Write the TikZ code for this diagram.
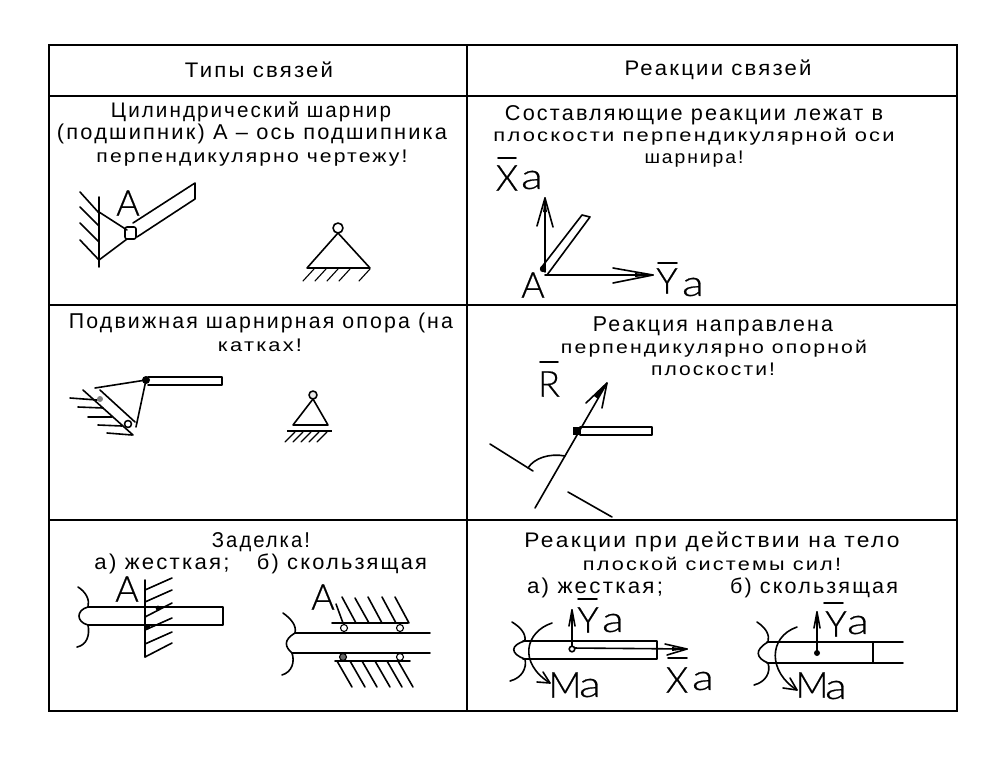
\documentclass[tikz,border=0pt]{standalone}
\usepackage{fontspec}
\setmainfont{Liberation Sans}[LetterSpace=10]
\newfontfamily\bigf{Lato Light}[FakeBold=0.5]
\usetikzlibrary{arrows.meta}
\tikzset{
  frame/.style={line width=2pt,black},
  ln/.style={line width=1.6pt,black,line cap=round,line join=round},
  thin ln/.style={line width=1.1pt,black,line cap=round},
  txt/.style={inner sep=0pt,anchor=center,text=black},
  biglet/.style={inner sep=0pt,anchor=center,font=\bigf\fontsize{36}{36}\selectfont,text=black},
  smalla/.style={inner sep=0pt,anchor=center,font=\bigf\fontsize{36}{36}\selectfont,text=black},
  bartip/.style={line width=1.6pt,black,line cap=round,line join=round}
}
\newcommand{\tline}[5]{\node[txt] (#1) at (#2,#3) {\resizebox*{#4pt}{20pt}{\vphantom{Цр(}#5}};}
\newcommand{\sline}[5]{\node[txt] (#1) at (#2,#3) {\resizebox*{#4pt}{17pt}{\vphantom{Цр(}#5}};}
\newcommand{\wa}{\scalebox{1.25}[1]{a}}
\begin{document}
\begin{tikzpicture}[x=1pt,y=-1pt]
\useasboundingbox (0,0) rectangle (990,760);
% table
\draw[frame] (49,45) rectangle (957,711);
\draw[frame] (467,45) -- (467,711);
\draw[frame] (49,96) -- (957,96);
\draw[frame] (49,304.5) -- (957,304.5);
\draw[frame] (49,520) -- (957,520);
% texts
\tline{h1}{259}{72}{148}{Типы связей}
\tline{h2}{718}{70}{187}{Реакции связей}
\tline{c1a}{251}{112}{280}{Цилиндрический шарнир}
\tline{c1b}{252}{134}{390}{(подшипник) А – ось подшипника}
\sline{c1c}{252}{158}{311}{перпендикулярно чертежу!}
\tline{c2a}{694}{115}{378}{Составляющие реакции лежат в}
\sline{c2b}{694}{137}{401}{плоскости перпендикулярной оси}
\sline{c2c}{694}{159}{99}{шарнира!}
\tline{c3a}{261}{323}{384}{Подвижная шарнирная опора (на}
\sline{c3b}{260}{347}{84}{катках!}
\tline{c4a}{713}{326}{240}{Реакция направлена}
\sline{c4b}{714}{349}{306}{перпендикулярно опорной}
\sline{c4c}{713}{371}{124}{плоскости!}
\tline{c5a}{261}{542}{98}{Заделка!}
\tline{c5b}{162}{564}{135}{а) жесткая;}
\tline{c5c}{342}{564}{170}{б) скользящая}
\tline{c6a}{712}{542}{375}{Реакции при действии на тело}
\sline{c6b}{712}{566}{258}{плоской системы сил!}
\tline{c6c}{595}{588}{136}{а) жесткая;}
\tline{c6d}{814}{588}{168}{б) скользящая}
% cell 1 left
\draw[ln] (99,197) -- (99,267);
\foreach \a/\b in {192/213,207/226,223/242,240/260} \draw[ln] (80,\a) -- (99,\b);
\draw[ln] (99,212) -- (127,230) (99,260) -- (127,239);
\draw[ln,rounded corners=2pt] (125,227) rectangle (136,239);
\draw[ln] (133,223) -- (195,183) -- (195,199) -- (137,237);
\node[biglet] (a1) at (128,203) {А};
% cell 1 right
\draw[ln] (338,228) circle (5);
\draw[ln] (338,233) -- (307,268) -- (370,268) -- cycle;
\foreach \x in {314,326,338,350,370} \draw[thin ln] (\x,269) -- (\x-11,281);
% cell 2
\draw[ln] (545,272) -- (545,198);
\draw[bartip] (537,226) -- (545,198) -- (553,227);
\fill (545,198) -- (543,212) -- (547,212) -- cycle;
\draw[ln] (541,268) -- (582,215) -- (590,217) -- (547,275);
\fill (543,269) circle (3.2);
\draw[ln] (545,275) -- (653,275);
\draw[bartip] (613,268) -- (653,275) -- (613,283);
\fill (653,275) -- (635,273) -- (635,277) -- cycle;
\node[biglet] (a2) at (533,285) {А};
\node[biglet] (xa1) at (507,178) {X};
\draw[ln] (498,158) -- (516,158);
\node[smalla] (xa1a) at (532,180) {\wa};
\node[biglet] (ya1) at (667,281) {Y};
\draw[ln] (658,263) -- (677,263);
\node[smalla] (ya1a) at (693,287) {\wa};
% cell 3 left
\draw[ln] (148,377) -- (222,377) -- (222,385) -- (148,385);
\fill (146,380) circle (4);
\draw[ln] (95,388) -- (146,380) -- (136,427);
\draw[ln] (83,390) -- (133,435);
\draw[ln] (100,390) -- (135,422);
\foreach \a/\b/\c/\d in {70/398/97/400,78/407/103/408,88/417/112/417,98/425/122/426,107/433/132/435} \draw[ln] (\a,\b) -- (\c,\d);
\draw[ln,fill=white] (128,424) circle (3.5);
\fill[black!50] (100,399) circle (3);
% cell 3 right
\draw[ln,fill=black!8] (313,395) circle (4);
\draw[ln] (313,399) -- (293,425) -- (328,425) -- cycle;
\draw[line width=2pt] (287,431) -- (332,431);
\foreach \x in {295,303,311,319,327} \draw[thin ln] (\x,432) -- (\x-10,442);
% cell 4
\draw[ln] (535,508) -- (607,383);
\draw[bartip] (586,403) -- (607,383) -- (602,408);
\fill (607,383) -- (594,396) -- (598,399) -- cycle;
\draw[ln] (580,427) -- (652,427) -- (652,435) -- (580,435);
\fill (573,427) rectangle (581,435);
\draw[ln] (490,444) -- (533,471);
\draw[ln] (568,492) -- (612,517);
\draw[ln] (528,468) .. controls (534,458) and (550,453) .. (565,456);
\node[biglet] (r1) at (549,384) {R};
\draw[ln] (540,362) -- (558,362);
% cell 5 left
\draw[ln] (145,580) -- (145,657);
\foreach \a/\b in {590/578,602/590,617/603,630/618,644/632,657/643} \draw[ln] (145,\a) -- (172,\b);
\draw[ln] (88,607) -- (223,607) -- (223,625) -- (88,625);
\draw[ln] (88,607) .. controls (76,610) and (76,622) .. (88,625);
\draw[ln] (78,587) .. controls (86,592) and (90,600) .. (88,607);
\draw[ln] (88,625) .. controls (90,635) and (87,645) .. (77,647);
\fill (158,608) circle (2.4) (148,627) circle (2.4);
\node[biglet] (a3) at (127,589) {А};
% cell 5 right
\foreach \a/\b in {342/597,355/598,368/597,382/597,395/597} \draw[ln] (\a,\b) -- (\a+14,623);
\draw[ln] (336,604) -- (343,623);
\draw[ln] (332,623) -- (408,623);
\draw[ln] (295,633) -- (430,633);
\draw[ln] (292,653) -- (430,653);
\draw[ln] (335,661) -- (410,661);
\foreach \a in {337,350,362,375,387,398} \draw[ln] (\a,661) -- (\a+15,687);
\draw[thin ln,fill=white] (344,628) circle (3.5);
\draw[thin ln,fill=white] (400,628) circle (3.5);
\draw[thin ln,fill=black!60] (343,657) circle (3.5);
\draw[thin ln,fill=white] (400,657) circle (3.5);
\draw[ln] (283,613) .. controls (290,618) and (297,625) .. (295,633);
\draw[ln] (295,633) .. controls (283,640) and (285,647) .. (292,653);
\draw[ln] (292,653) .. controls (295,662) and (292,672) .. (282,675);
\node[biglet] (a4) at (323,597) {А};
% cell 6 left
\draw[ln] (523,641) -- (657,641) -- (657,659) -- (523,659);
\draw[ln] (525,641) .. controls (510,645) and (510,654) .. (525,659);
\draw[ln] (512,622) .. controls (520,627) and (526,633) .. (525,641);
\draw[ln] (525,659) .. controls (527,668) and (522,678) .. (510,681);
\draw[ln] (552,623) .. controls (525,632) and (518,663) .. (550,683);
\draw[bartip] (537,682) -- (550,683) -- (543,672);
\draw[ln] (572,648) -- (572,610);
\draw[bartip] (569,626) -- (572,610) -- (575,626);
\draw[ln] (572,648) -- (687,649);
\draw[bartip] (665,644) -- (687,649) -- (667,655);
\fill (687,649) -- (672,647) -- (672,651) -- cycle;
\draw[ln,fill=white] (572,649) circle (2.8);
\node[biglet] (ya2) at (588,620) {Y};
\draw[ln] (578,599) -- (597,599);
\node[smalla] (ya2a) at (613,623) {\wa};
\node[biglet] (ma1) at (565,685) {M};
\node[smalla] (ma1a) at (590,688) {\wa};
\node[biglet] (xa2) at (677,680) {X};
\draw[ln] (668,658) -- (687,658);
\node[smalla] (xa2a) at (703,681) {\wa};
% cell 6 right
\draw[ln] (767,642) -- (903,642);
\draw[ln] (767,663) -- (903,663);
\draw[ln] (873,642) -- (873,663);
\draw[ln] (768,642) .. controls (754,650) and (756,658) .. (768,663);
\draw[ln] (757,622) .. controls (766,628) and (770,635) .. (768,642);
\draw[ln] (768,663) .. controls (771,672) and (766,682) .. (754,685);
\draw[ln] (797,627) .. controls (768,637) and (768,672) .. (797,690);
\draw[bartip] (783,688) -- (797,690) -- (790,678);
\draw[ln] (817,652) -- (817,612);
\draw[bartip] (814,628) -- (817,612) -- (820,628);
\fill (817,653) circle (3);
\node[biglet] (ya3) at (836,624) {Y};
\draw[ln] (824,603) -- (843,603);
\node[smalla] (ya3a) at (858,625) {\wa};
\node[biglet] (ma2) at (812,685) {M};
\node[smalla] (ma2a) at (836,690) {\wa};
\end{tikzpicture}
\end{document}
